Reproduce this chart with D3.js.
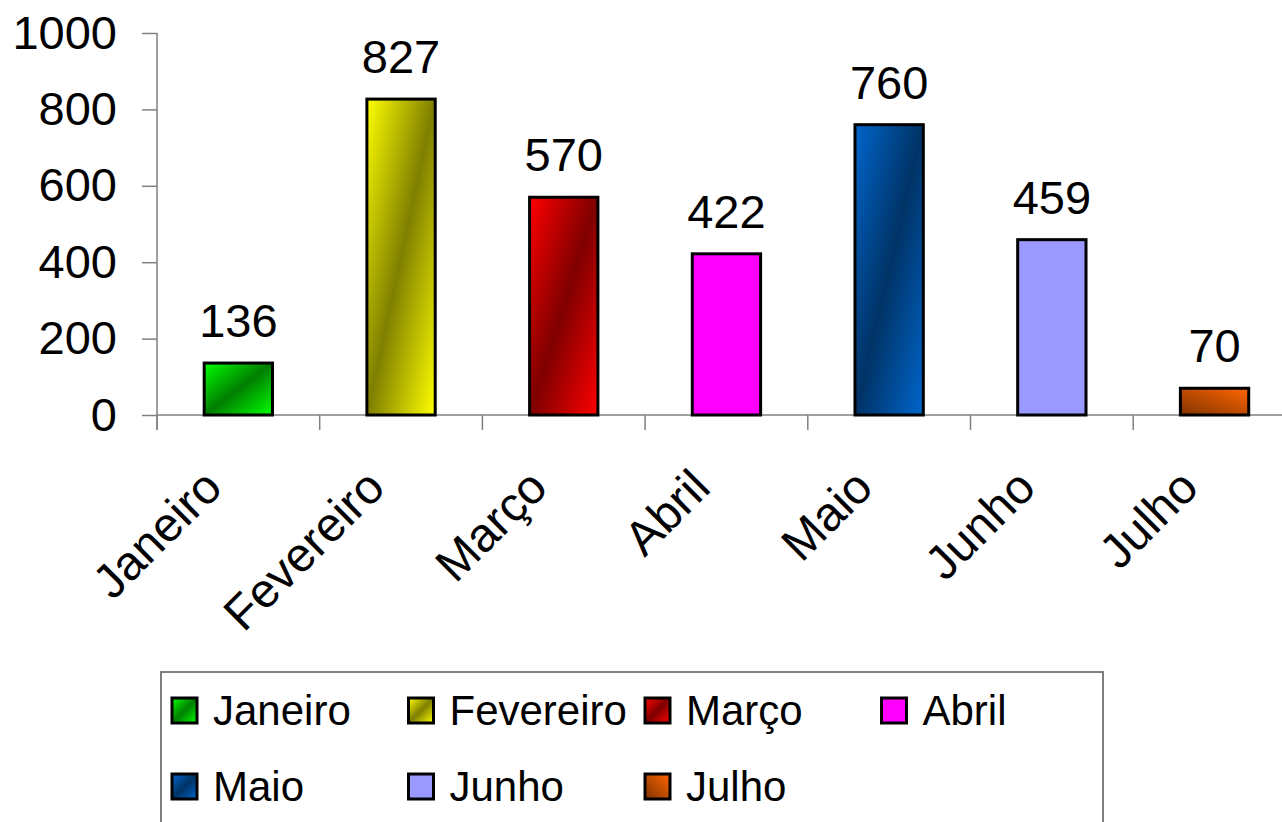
<!DOCTYPE html>
<html>
<head>
<meta charset="utf-8">
<script src="https://cdn.jsdelivr.net/npm/d3@7"></script>
<style>
  html, body { margin: 0; padding: 0; background: #fff; }
  svg { display: block; font-family: "Liberation Sans", Arial, sans-serif; }
</style>
</head>
<body>
<div id="chart"></div>
<script>
/** --- DATA --- */
const months = ['Janeiro', 'Fevereiro', 'Março', 'Abril', 'Maio', 'Junho', 'Julho'];
const values = [136, 827, 570, 422, 760, 459, 70];
const yTicks = [0, 200, 400, 600, 800, 1000];

// fill per month: [light, dark, kind]
const fills = [
  ['#00ff00', '#007f00', 'band'],
  ['#ffff00', '#7f7f00', 'band'],
  ['#ff0000', '#7f0000', 'band'],
  ['#ff00ff', '#ff00ff', 'solid'],
  ['#0066cc', '#003366', 'band'],
  ['#9999ff', '#9999ff', 'solid'],
  ['#ff6600', '#803300', 'corner']
];

/** --- DIMENSIONS --- */
const width = 1282;
const height = 822;
const x0 = 157, x1 = 157 + 7 * 162.7;
const yBottom = 415, yTop = 33;

const svg = d3.select('#chart').append('svg')
  .attr('width', width)
  .attr('height', height);

const defs = svg.append('defs');
fills.forEach((f, i) => {
  if (f[2] === 'solid') return;
  const g = defs.append('linearGradient')
    .attr('id', 'grad' + i)
    .attr('gradientUnits', 'objectBoundingBox');
  if (f[2] === 'band') {
    g.attr('x1', 0).attr('y1', 0).attr('x2', 1).attr('y2', 1);
    g.append('stop').attr('offset', 0).attr('stop-color', f[0]);
    g.append('stop').attr('offset', 0.5).attr('stop-color', f[1]);
    g.append('stop').attr('offset', 1).attr('stop-color', f[0]);
  } else {
    g.attr('x1', 0).attr('y1', 1).attr('x2', 1).attr('y2', 0);
    g.append('stop').attr('offset', 0).attr('stop-color', f[1]);
    g.append('stop').attr('offset', 1).attr('stop-color', f[0]);
  }
});
const fillOf = i => fills[i][2] === 'solid' ? fills[i][0] : 'url(#grad' + i + ')';

/** --- SCALES --- */
const xScale = d3.scaleBand()
  .domain(months)
  .range([x0, x1])
  .paddingInner(0.58)
  .paddingOuter(0.29);

const yScale = d3.scaleLinear()
  .domain([0, 1000])
  .range([yBottom, yTop]);

const step = xScale.step();

/** --- AXES --- */
const axisColor = '#808080';

const yAxis = svg.append('g')
  .attr('transform', `translate(${x0},0)`)
  .call(d3.axisLeft(yScale).tickValues(yTicks).tickFormat(d3.format('d')).tickSize(15).tickPadding(25));
yAxis.select('.domain').remove();
yAxis.selectAll('.tick line').attr('stroke', axisColor).attr('stroke-width', 1.5);
yAxis.selectAll('.tick text')
  .attr('font-size', 47)
  .attr('font-family', '"Liberation Sans", Arial, sans-serif')
  .attr('fill', '#000');

svg.append('line')
  .attr('x1', x0).attr('x2', x0)
  .attr('y1', yTop).attr('y2', yBottom + 15)
  .attr('stroke', axisColor).attr('stroke-width', 1.5);

svg.append('line')
  .attr('x1', x0).attr('x2', x1)
  .attr('y1', yBottom).attr('y2', yBottom)
  .attr('stroke', axisColor).attr('stroke-width', 1.5);

// category boundary ticks
svg.selectAll('line.xtick')
  .data(months)
  .enter().append('line')
  .attr('class', 'xtick')
  .attr('x1', d => xScale(d) - step * 0.29)
  .attr('x2', d => xScale(d) - step * 0.29)
  .attr('y1', yBottom).attr('y2', yBottom + 15)
  .attr('stroke', axisColor).attr('stroke-width', 1.5);

svg.selectAll('text.xlabel')
  .data(months)
  .enter().append('text')
  .attr('class', 'xlabel')
  .attr('transform', d => `translate(${xScale(d) + xScale.bandwidth() / 2 - 14},490) rotate(-45)`)
  .attr('text-anchor', 'end')
  .attr('font-size', 48)
  .text(d => d);

/** --- BARS --- */
svg.selectAll('rect.bar')
  .data(values)
  .enter().append('rect')
  .attr('class', 'bar')
  .attr('x', (d, i) => xScale(months[i]))
  .attr('y', d => yScale(d))
  .attr('width', xScale.bandwidth())
  .attr('height', d => yScale(0) - yScale(d))
  .attr('fill', (d, i) => fillOf(i))
  .attr('stroke', '#000')
  .attr('stroke-width', 3);

svg.selectAll('text.value')
  .data(values)
  .enter().append('text')
  .attr('class', 'value')
  .attr('x', (d, i) => xScale(months[i]) + xScale.bandwidth() / 2)
  .attr('y', d => yScale(d) - 26)
  .attr('text-anchor', 'middle')
  .attr('font-size', 47)
  .text(d => d);

/** --- LEGEND --- */
const legend = svg.append('g');
legend.append('rect')
  .attr('x', 161).attr('y', 672)
  .attr('width', 942).attr('height', 170)
  .attr('fill', '#fff')
  .attr('stroke', axisColor)
  .attr('stroke-width', 2);

const item = legend.selectAll('g.item')
  .data(months)
  .enter().append('g')
  .attr('class', 'item')
  .attr('transform', (d, i) => `translate(${172 + (i % 4) * 236.5},${698 + Math.floor(i / 4) * 76})`);

item.append('rect')
  .attr('width', 25).attr('height', 25)
  .attr('fill', (d, i) => fillOf(i))
  .attr('stroke', '#000')
  .attr('stroke-width', 3);

item.append('text')
  .attr('x', 41)
  .attr('y', 27)
  .attr('font-size', 42)
  .text(d => d);
</script>
</body>
</html>
